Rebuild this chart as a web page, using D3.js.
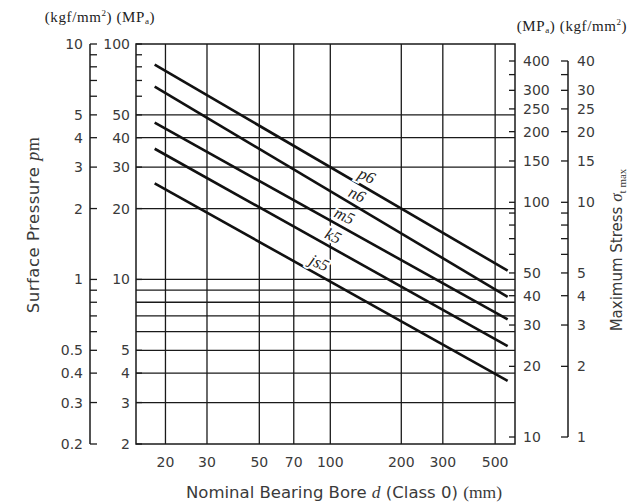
<!DOCTYPE html>
<html><head><meta charset="utf-8">
<script src="https://cdn.jsdelivr.net/npm/d3@7"></script>
<style>
body{margin:0;background:#fff;}
svg{display:block;}
.tick-label{font-family:"DejaVu Sans",sans-serif;font-size:14px;fill:#3a3a3a;}
.serif{font-family:"Liberation Serif","Times New Roman",serif;}
</style></head>
<body>
<svg id="chart" width="638" height="504"></svg>
<script>
// ---- data ----
const seriesNames = ["p6", "n6", "m5", "k5", "js5"];
const boreEnds = [18, 565];                 // nominal bore d (mm) at line ends
const p6Values = [81.7, 10.9];              // surface pressure (MPa)
const n6Values = [65.9, 8.44];
const m5Values = [46.3, 6.77];
const k5Values = [35.9, 5.21];
const js5Values = [25.6, 3.71];
const labelBores = [143, 130, 115, 103, 90];
const xTicks = [20, 30, 50, 70, 100, 200, 300, 500];
const leftMPaTicks = [100, 50, 40, 30, 20, 10, 5, 4, 3, 2];
const leftMPaMinor = [90, 80, 70, 60];
const gridMPa = [50, 40, 30, 20, 10, 9, 8, 7, 6, 5, 4, 3];
const leftKgfTicks = [10, 5, 4, 3, 2, 1, 0.5, 0.4, 0.3, 0.2];
const leftKgfMinor = [9, 8, 7, 6, 0.9, 0.8, 0.7, 0.6];
const rightMPaTicks = [400, 300, 250, 200, 150, 100, 50, 40, 30, 20, 10];
const rightMPaMinor = [350, 90, 80, 70, 60];
const rightKgfTicks = [40, 30, 25, 20, 15, 10, 5, 4, 3, 2, 1];
const rightKgfMinor = [35, 9, 8, 7, 6];

const seriesValues = [p6Values, n6Values, m5Values, k5Values, js5Values];

const svg = d3.select("#chart");
const L = 136, R = 515, T = 44, B = 444;

const x = d3.scaleLog().domain([15, 607]).range([L, R]);
const yL = d3.scaleLog().domain([2, 100]).range([B, T]);
const yLK = d3.scaleLog().domain([0.2, 10]).range([B, T]);
const yR = d3.scaleLog().domain([10, 400]).range([437, 61]);
const yRK = d3.scaleLog().domain([1, 40]).range([437, 61]);

const ink = "#1a1a1a";

// grid
svg.append("g").selectAll("line").data(xTicks).join("line")
  .attr("x1", d => x(d)).attr("x2", d => x(d)).attr("y1", T).attr("y2", B)
  .attr("stroke", ink).attr("stroke-width", 1.3);
svg.append("g").selectAll("line").data(gridMPa).join("line")
  .attr("x1", L).attr("x2", R).attr("y1", d => yL(d)).attr("y2", d => yL(d))
  .attr("stroke", ink).attr("stroke-width", 1.3);

// frame
svg.append("rect").attr("x", L).attr("y", T).attr("width", R - L).attr("height", B - T)
  .attr("fill", "none").attr("stroke", ink).attr("stroke-width", 1.5);

// inner left ticks (pointing into plot)
svg.append("g").selectAll("line").data(leftMPaTicks.concat(leftMPaMinor)).join("line")
  .attr("x1", L).attr("x2", L + 6).attr("y1", d => yL(d)).attr("y2", d => yL(d))
  .attr("stroke", ink).attr("stroke-width", 1.3);
svg.append("g").selectAll("text").data(leftMPaTicks).join("text")
  .attr("class", "tick-label").attr("x", L - 6).attr("y", d => yL(d)).attr("dy", "0.36em")
  .attr("text-anchor", "end").text(d => d);

// outer left kgf axis
const xLK = 90;
svg.append("line").attr("x1", xLK).attr("x2", xLK).attr("y1", T).attr("y2", B)
  .attr("stroke", ink).attr("stroke-width", 1.5);
svg.append("g").selectAll("line").data(leftKgfTicks.concat(leftKgfMinor)).join("line")
  .attr("x1", xLK).attr("x2", xLK + 7).attr("y1", d => yLK(d)).attr("y2", d => yLK(d))
  .attr("stroke", ink).attr("stroke-width", 1.3);
svg.append("g").selectAll("text").data(leftKgfTicks).join("text")
  .attr("class", "tick-label").attr("x", xLK - 7).attr("y", d => yLK(d)).attr("dy", "0.36em")
  .attr("text-anchor", "end").text(d => d);

// right inner MPa axis
svg.append("g").selectAll("line").data(rightMPaTicks.concat(rightMPaMinor)).join("line")
  .attr("x1", R - 6).attr("x2", R).attr("y1", d => yR(d)).attr("y2", d => yR(d))
  .attr("stroke", ink).attr("stroke-width", 1.3);
svg.append("g").selectAll("text").data(rightMPaTicks).join("text")
  .attr("class", "tick-label").attr("x", R + 8).attr("y", d => yR(d)).attr("dy", "0.36em")
  .attr("text-anchor", "start").text(d => d);

// right outer kgf axis
const xRK = 568;
svg.append("line").attr("x1", xRK).attr("x2", xRK).attr("y1", yRK(40)).attr("y2", yRK(1))
  .attr("stroke", ink).attr("stroke-width", 1.5);
svg.append("g").selectAll("line").data(rightKgfTicks.concat(rightKgfMinor)).join("line")
  .attr("x1", xRK - 7).attr("x2", xRK).attr("y1", d => yRK(d)).attr("y2", d => yRK(d))
  .attr("stroke", ink).attr("stroke-width", 1.3);
svg.append("g").selectAll("text").data(rightKgfTicks).join("text")
  .attr("class", "tick-label").attr("x", xRK + 9).attr("y", d => yRK(d)).attr("dy", "0.36em")
  .attr("text-anchor", "start").text(d => d);

// bottom x labels
svg.append("g").selectAll("text").data(xTicks).join("text")
  .attr("class", "tick-label").attr("x", d => x(d)).attr("y", B + 23)
  .attr("text-anchor", "middle").text(d => d);

// series lines
const line = d3.line().x(d => x(d[0])).y(d => yL(d[1]));
seriesValues.forEach((vals, i) => {
  svg.append("path").datum(boreEnds.map((b, j) => [b, vals[j]]))
    .attr("d", line).attr("fill", "none").attr("stroke", "#111").attr("stroke-width", 2.6);
});

// series labels
seriesValues.forEach((vals, i) => {
  const lb = labelBores[i];
  const t = Math.log(lb / boreEnds[0]) / Math.log(boreEnds[1] / boreEnds[0]);
  const v = Math.exp(Math.log(vals[0]) + t * (Math.log(vals[1]) - Math.log(vals[0])));
  const px = x(lb), py = yL(v) - 13;
  svg.append("text").attr("class", "serif")
    .attr("transform", `translate(${px},${py}) rotate(25)`)
    .attr("text-anchor", "middle").attr("dy", "0.35em")
    .attr("font-size", 16.5).attr("font-style", "italic").attr("fill", "#222")
    .attr("stroke", "#fff").attr("stroke-width", 4).attr("paint-order", "stroke")
    .text(seriesNames[i]);
});

// unit headers
const hl = svg.append("text").attr("class", "serif").attr("x", 100).attr("y", 22)
  .attr("text-anchor", "middle").attr("font-size", 15).attr("letter-spacing", 0.6).attr("fill", "#222");
hl.append("tspan").text("(kgf/mm");
hl.append("tspan").attr("font-size", 9).attr("dy", -6).text("2");
hl.append("tspan").attr("dy", 6).text(") (MP");
hl.append("tspan").attr("font-size", 9).attr("dy", 2).text("a");
hl.append("tspan").attr("dy", -2).text(")");

const hr = svg.append("text").attr("class", "serif").attr("x", 572).attr("y", 31)
  .attr("text-anchor", "middle").attr("font-size", 15).attr("letter-spacing", 0.6).attr("fill", "#222");
hr.append("tspan").text("(MP");
hr.append("tspan").attr("font-size", 9).attr("dy", 2).text("a");
hr.append("tspan").attr("dy", -2).text(") (kgf/mm");
hr.append("tspan").attr("font-size", 9).attr("dy", -6).text("2");
hr.append("tspan").attr("dy", 6).text(")");

// axis titles
const lt = svg.append("text").attr("transform", "translate(39,225) rotate(-90)")
  .attr("text-anchor", "middle").attr("font-family", "DejaVu Sans, sans-serif")
  .attr("font-size", 16.5).attr("letter-spacing", 0.5).attr("fill", "#3a3a3a");
lt.append("tspan").text("Surface Pressure ");
lt.append("tspan").attr("class", "serif").attr("font-style", "italic").attr("font-size", 18).text("p");
lt.append("tspan").attr("class", "serif").attr("font-size", 18).text("m");

const rt = svg.append("text").attr("transform", "translate(622,250) rotate(-90)")
  .attr("text-anchor", "middle").attr("font-family", "DejaVu Sans, sans-serif")
  .attr("font-size", 15).attr("fill", "#3a3a3a");
rt.append("tspan").text("Maximum Stress ");
rt.append("tspan").attr("class", "serif").attr("font-style", "italic").attr("font-size", 17).text("σ");
rt.append("tspan").attr("class", "serif").attr("font-size", 11).attr("dy", 4).text("t max");

const bt = svg.append("text").attr("x", 344).attr("y", 498)
  .attr("text-anchor", "middle").attr("font-family", "DejaVu Sans, sans-serif")
  .attr("font-size", 16.5).attr("fill", "#3a3a3a");
bt.append("tspan").text("Nominal Bearing Bore ");
bt.append("tspan").attr("class", "serif").attr("font-style", "italic").attr("font-size", 17.5).text("d");
bt.append("tspan").text(" (Class 0) ");
bt.append("tspan").attr("class", "serif").attr("font-size", 17.5).text("(mm)");
</script>
</body></html>
